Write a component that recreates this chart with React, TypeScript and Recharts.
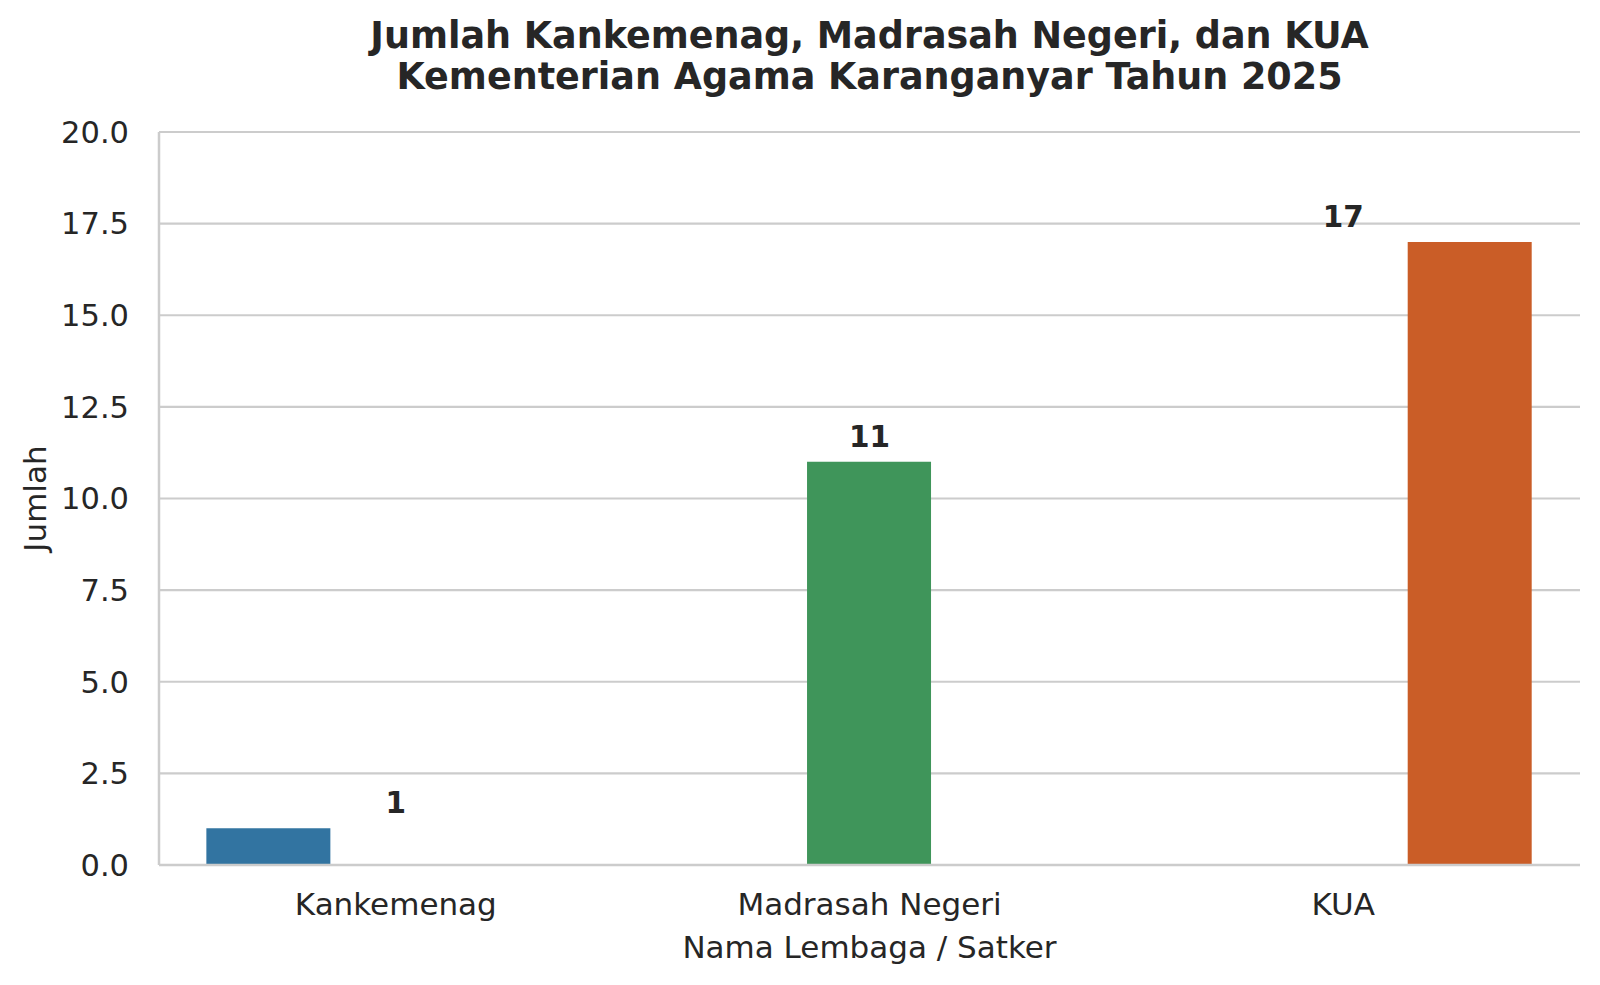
import { Bar, ComposedChart, CartesianGrid, LabelList, Line, XAxis, YAxis } from "recharts";

const categories = ["Kankemenag", "Madrasah Negeri", "KUA"];
const seriesKeys = ["kankemenag", "madrasah", "kua"];
const values = [1, 11, 17];
const colors = ["#3274a1", "#3f955a", "#ca5d27"];
const yTicks = [0, 2.5, 5, 7.5, 10, 12.5, 15, 17.5, 20];

const data = categories.map((name, i) => {
  const row: Record<string, string | number | null> = { name, total: values[i] };
  seriesKeys.forEach((k, j) => {
    row[k] = i === j ? values[i] : null;
  });
  return row;
});

const textColor = "#262626";
const gridColor = "#cccccc";
const font = "'DejaVu Sans', sans-serif";

const ValueLabel = (props: any) => {
  const { x, y, value } = props;
  return (
    <text x={x} y={y - 15} textAnchor="middle" fill={textColor} fontSize={29.5} fontWeight="bold">
      {value}
    </text>
  );
};

const YLabel = (props: any) => {
  const vb = props.viewBox || {};
  const cx = (vb.x ?? 0) + 35;
  const cy = (vb.y ?? 0) + (vb.height ?? 0) / 2;
  return (
    <text x={cx} y={cy} transform={`rotate(-90 ${cx} ${cy})`} textAnchor="middle" dominantBaseline="central" fill={textColor} fontSize={31}>
      Jumlah
    </text>
  );
};

export default function App() {
  return (
    <div style={{ position: "absolute", left: 0, top: 0, width: 1600, height: 985, background: "#fff", fontFamily: font }}>
      <div
        style={{
          position: "absolute",
          left: 159,
          width: 1421,
          top: 15,
          textAlign: "center",
          fontWeight: "bold",
          fontSize: 36.5,
          lineHeight: "41px",
          color: textColor,
        }}
      >
        Jumlah Kankemenag, Madrasah Negeri, dan KUA
        <br />
        Kementerian Agama Karanganyar Tahun 2025
      </div>
      <ComposedChart
        width={1600}
        height={985}
        data={data}
        margin={{ top: 132, right: 20, bottom: 0, left: 0 }}
        barCategoryGap="10%"
        barGap={3}
      >
        <CartesianGrid horizontal vertical={false} stroke={gridColor} strokeWidth={2.2} />
        <XAxis
          dataKey="name"
          height={120}
          tickSize={0}
          tickMargin={28}
          tickLine={false}
          axisLine={{ stroke: gridColor, strokeWidth: 2.5 }}
          tick={{ fill: textColor, fontSize: 31 }}
          label={{ value: "Nama Lembaga / Satker", position: "insideBottom", offset: 27, fill: textColor, fontSize: 31 }}
        />
        <YAxis
          width={159}
          domain={[0, 20]}
          ticks={yTicks}
          tickFormatter={(v: number) => v.toFixed(1)}
          tickSize={0}
          tickMargin={30}
          tickLine={false}
          axisLine={{ stroke: gridColor, strokeWidth: 2.5 }}
          tick={{ fill: textColor, fontSize: 30.5 }}
          label={<YLabel />}
        />
        <YAxis
          yAxisId="frame"
          orientation="right"
          width={0}
          domain={[0, 20]}
          tick={false}
          tickLine={false}
          axisLine={{ stroke: gridColor, strokeWidth: 2.5 }}
        />
        {seriesKeys.map((k, j) => (
          <Bar key={k} dataKey={k} fill={colors[j]} isAnimationActive={false} />
        ))}
        <Line dataKey="total" stroke="none" dot={false} activeDot={false} isAnimationActive={false}>
          <LabelList dataKey="total" content={<ValueLabel />} />
        </Line>
      </ComposedChart>
    </div>
  );
}
